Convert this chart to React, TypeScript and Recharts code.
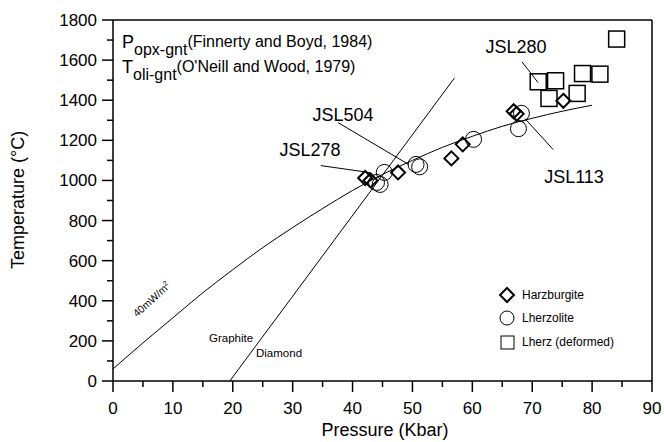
import React from 'react';
import {
  ComposedChart,
  Line,
  Scatter,
  XAxis,
  YAxis,
  ReferenceLine,
} from 'recharts';

// Pressure (Kbar) / temperature (°C)
const harzP = [42.1, 43.0, 47.6, 56.5, 58.4, 66.9, 67.4, 75.2];
const harzT = [1012, 1000, 1040, 1110, 1180, 1345, 1332, 1397];
const lherzP = [44.0, 44.6, 45.3, 50.6, 51.2, 60.2, 68.2, 67.7];
const lherzT = [990, 980, 1040, 1080, 1068, 1205, 1335, 1258];
const defP = [71.0, 73.9, 72.8, 77.5, 78.4, 81.3, 84.1];
const defT = [1492, 1497, 1409, 1434, 1533, 1530, 1705];

// 40 mW/m2 geotherm
const geoP = [0, 5, 10, 15, 20, 25, 30, 35, 40, 45, 50, 55, 60, 65, 70, 75, 80];
const geoT = [60, 190, 315, 440, 555, 665, 765, 860, 950, 1030, 1100, 1165, 1220, 1270, 1310, 1345, 1375];

// graphite-diamond boundary
const gdP = [19.5, 57];
const gdT = [0, 1510];

// sample label leaders [p1, t1, p2, t2]
const leaders = [
  { name: 'JSL278', seg: [34.7, 1074, 42.9, 1039] },
  { name: 'JSL504', seg: [37.6, 1288, 49.4, 1079] },
  { name: 'JSL280', seg: [68.3, 1591, 71.0, 1487] },
  { name: 'JSL113', seg: [68.8, 1308, 73.5, 1154] },
];

const xTicks = [0, 5, 10, 15, 20, 25, 30, 35, 40, 45, 50, 55, 60, 65, 70, 75, 80, 85, 90];
const yTicks = [0, 100, 200, 300, 400, 500, 600, 700, 800, 900, 1000, 1100, 1200, 1300, 1400, 1500, 1600, 1700, 1800];

const zip = (ps: number[], ts: number[]) => ps.map((p, i) => ({ p, t: ts[i] }));

const harz = zip(harzP, harzT);
const lherz = zip(lherzP, lherzT);
const deformed = zip(defP, defT);
const geotherm = zip(geoP, geoT);
const graphite = zip(gdP, gdT);

const FONT = '"Liberation Sans", Arial, sans-serif';

const Diamond = ({ cx, cy }: any) => (
  <path
    d={`M${cx},${cy - 7} L${cx + 7},${cy} L${cx},${cy + 7} L${cx - 7},${cy} Z`}
    fill="none"
    stroke="#000"
    strokeWidth={2}
  />
);
const Circle = ({ cx, cy }: any) => (
  <circle cx={cx} cy={cy} r={8} fill="none" stroke="#000" strokeWidth={1} />
);
const Square = ({ cx, cy }: any) => (
  <rect x={cx - 8} y={cy - 8} width={16} height={16} fill="none" stroke="#000" strokeWidth={1.5} />
);

const XTick = ({ x, y, payload }: any) => {
  const major = payload.value % 10 === 0;
  return (
    <g>
      <line x1={x} x2={x} y1={y} y2={y + (major ? 11 : 6)} stroke="#000" strokeWidth={1.5} />
      {major && (
        <text x={x} y={y + 33} textAnchor="middle" fontSize={17} fontFamily={FONT} fill="#000">
          {payload.value}
        </text>
      )}
    </g>
  );
};

const YTick = ({ x, y, payload }: any) => {
  const major = payload.value % 200 === 0;
  return (
    <g>
      <line x1={x} x2={x - (major ? 11 : 6)} y1={y} y2={y} stroke="#000" strokeWidth={1.5} />
      {major && (
        <text x={x - 16} y={y + 6} textAnchor="end" fontSize={17} fontFamily={FONT} fill="#000">
          {payload.value}
        </text>
      )}
    </g>
  );
};

export default function App() {
  return (
    <div style={{ position: 'absolute', left: 0, top: 0, width: 664, height: 442, background: '#fff' }}>
      <ComposedChart width={664} height={442} margin={{ top: 20, right: 12, bottom: 21, left: 53 }}>
        <XAxis
          type="number"
          dataKey="p"
          domain={[0, 90]}
          ticks={xTicks}
          interval={0}
          tickSize={0}
          tickMargin={0}
          tick={<XTick />}
          height={40}
          axisLine={{ stroke: '#000', strokeWidth: 1.5 }}
        />
        <YAxis
          type="number"
          dataKey="t"
          domain={[0, 1800]}
          ticks={yTicks}
          interval={0}
          tickSize={0}
          tickMargin={0}
          tick={<YTick />}
          width={60}
          axisLine={{ stroke: '#000', strokeWidth: 1.5 }}
        />
        <ReferenceLine y={1800} stroke="#000" strokeWidth={1.5} />
        <ReferenceLine x={90} stroke="#000" strokeWidth={1.5} />

        <Line
          data={geotherm}
          dataKey="t"
          type="monotone"
          stroke="#000"
          strokeWidth={1}
          dot={false}
          activeDot={false}
          isAnimationActive={false}
        />
        <Line
          data={graphite}
          dataKey="t"
          type="linear"
          stroke="#000"
          strokeWidth={1}
          dot={false}
          activeDot={false}
          isAnimationActive={false}
        />
        {leaders.map((l) => (
          <ReferenceLine
            key={l.name}
            segment={[
              { x: l.seg[0], y: l.seg[1] },
              { x: l.seg[2], y: l.seg[3] },
            ]}
            stroke="#000"
            strokeWidth={1}
          />
        ))}

        <Scatter data={deformed} dataKey="t" shape={<Square />} isAnimationActive={false} />
        <Scatter data={lherz} dataKey="t" shape={<Circle />} isAnimationActive={false} />
        <Scatter data={harz} dataKey="t" shape={<Diamond />} isAnimationActive={false} />

        {/* annotations */}
        <g fontFamily={FONT} fill="#000">
          <text x={122} y={48} fontSize={18}>
            P<tspan fontSize={16} dy={7}>opx-gnt</tspan>
            <tspan fontSize={16} dy={-8}>(Finnerty and Boyd, 1984)</tspan>
          </text>
          <text x={122} y={73} fontSize={18}>
            T<tspan fontSize={16} dy={7}>oli-gnt</tspan>
            <tspan fontSize={16} dy={-8}>(O'Neill and Wood, 1979)</tspan>
          </text>
          <text x={516} y={53} fontSize={18} textAnchor="middle">JSL280</text>
          <text x={343} y={121} fontSize={18} textAnchor="middle">JSL504</text>
          <text x={310} y={156} fontSize={18} textAnchor="middle">JSL278</text>
          <text x={574} y={183} fontSize={18} textAnchor="middle">JSL113</text>
          <text x={152} y={303} fontSize={10.5} textAnchor="middle" transform="rotate(-42 152 300)">
            40mW/m<tspan fontSize={7} dy={-4}>2</tspan>
          </text>
          <text x={209} y={342} fontSize={11.5}>Graphite</text>
          <text x={256} y={357} fontSize={11.5}>Diamond</text>

          {/* legend */}
          <path d="M507,288 L514,295 L507,302 L500,295 Z" fill="none" stroke="#000" strokeWidth={2} />
          <text x={522} y={299} fontSize={12}>Harzburgite</text>
          <circle cx={507} cy={318} r={7} fill="none" stroke="#000" strokeWidth={1} />
          <text x={522} y={322} fontSize={12}>Lherzolite</text>
          <rect x={501} y={336} width={13} height={13} fill="none" stroke="#000" strokeWidth={1} />
          <text x={522} y={346} fontSize={12}>Lherz (deformed)</text>

          <text x={385} y={436} fontSize={18} textAnchor="middle">Pressure (Kbar)</text>
          <text x={24} y={200} fontSize={18} textAnchor="middle" transform="rotate(-90 24 200)">
            Temperature (°C)
          </text>
        </g>
      </ComposedChart>
    </div>
  );
}
